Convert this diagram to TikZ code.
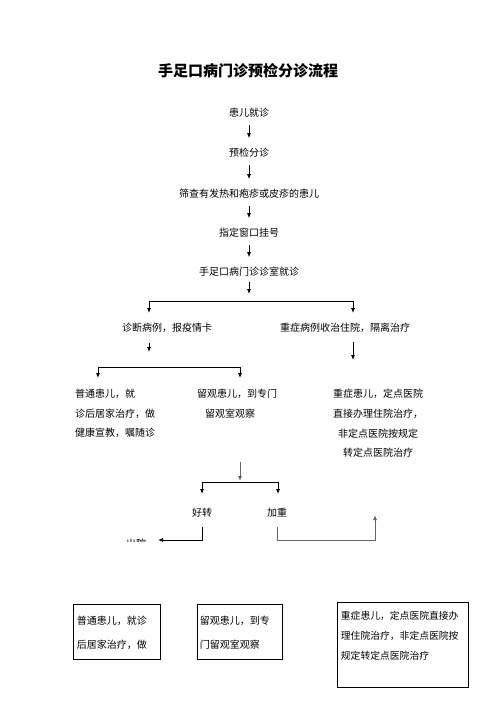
\documentclass[tikz,border=0pt]{standalone}
\usepackage{fontspec}
\newfontfamily\cjk{Noto Sans CJK SC}
\usetikzlibrary{arrows.meta}
\begin{document}
\begin{tikzpicture}[x=1pt,y=-1pt,
  txt/.style={font=\cjk\fontsize{10}{12}\selectfont, inner sep=0pt},
  para/.style={font=\cjk\fontsize{10}{19.6}\selectfont, inner sep=0pt},
  tip/.style={-{Latex[length=5pt,width=4pt]}},
  arr/.style={draw=black, line width=0.8pt, tip},
  garr/.style={draw=black!60, line width=0.8pt, tip},
  darr/.style={draw=black, line width=0.8pt, {Latex[length=5pt,width=4pt]}-{Latex[length=5pt,width=4pt]}},
  chain/.style={arr, shorten <=7pt, shorten >=10pt},
  boxnode/.style={draw, line width=0.8pt, font=\cjk\fontsize{10}{24}\selectfont, align=left, inner xsep=0pt, inner ysep=0pt, anchor=north west}
]
\useasboundingbox (0,0) rectangle (496,702);
\fill[white] (0,0) rectangle (496,702);

% title
\node[font=\cjk\bfseries\fontsize{15}{18}\selectfont, inner sep=0pt] (title) at (248,71) {手足口病门诊预检分诊流程};

% main chain
\node[txt] (n1) at (249,113) {患儿就诊};
\node[txt] (n2) at (249,153) {预检分诊};
\node[txt] (n3) at (249,194) {筛查有发热和疱疹或皮疹的患儿};
\node[txt] (n4) at (249,233) {指定窗口挂号};
\node[txt] (n5) at (249,272) {手足口病门诊诊室就诊};

\draw[chain] (n1) -- (n2);
\draw[chain] (n2) -- (n3);
\draw[chain] (n3) -- (n4);
\draw[chain] (n4) -- (n5);

% first branch
\coordinate (j1) at (249,294);
\draw[arr, shorten <=5pt] (n5) -- (j1);
\coordinate (tL) at (149,313);
\coordinate (hL) at (149,301);
\coordinate (hR) at (353,301);
\coordinate (tR) at (353,313);
\draw[darr] (tL) -- (hL) -- (hR) -- (tR);

\node[txt] (d1) at (167,328) {诊断病例，报疫情卡};
\node[txt] (d2) at (345,328) {重症病例收治住院，隔离治疗};

\coordinate (e1s) at (149,343);
\coordinate (e1e) at (149,352);
\draw[arr] (e1s) -- (e1e);
\coordinate (e2s) at (353,342);
\coordinate (e2e) at (353,360);
\draw[arr] (e2s) -- (e2e);

% second branch
\coordinate (uL) at (98,378);
\coordinate (vL) at (98,367);
\coordinate (vR) at (240,367);
\coordinate (uR) at (240,378);
\draw[darr] (uL) -- (vL) -- (vR) -- (uR);

\node[para, anchor=west, align=left] (p1) at (75,413.5) {普通患儿，就\\诊后居家治疗，做\\健康宣教，嘱随诊};
\node[para, anchor=west, align=left] (p2) at (197,403.5) {留观患儿，到专门\\\hspace*{8pt}留观室观察};
\node[para, align=center] (p3) at (378,423.5) {重症患儿，定点医院\\直接办理住院治疗，\\非定点医院按规定\\转定点医院治疗};

% third branch
\coordinate (k1s) at (240,462);
\coordinate (k1e) at (240,481);
\draw[garr] (k1s) -- (k1e);
\coordinate (wL) at (202,494);
\coordinate (xL) at (202,482);
\coordinate (xR) at (278,482);
\coordinate (wR) at (278,494);
\draw[darr] (wL) -- (xL) -- (xR) -- (wR);

\node[txt] (g1) at (202,513) {好转};
\node[txt] (g2) at (277,513) {加重};

\begin{scope}
\clip (100,530) rectangle (190,541.8);
\node[txt] (out) at (136,544) {出院};
\end{scope}

\coordinate (g1c) at (202,540);
\coordinate (g1e) at (158,540);
\draw[arr, shorten <=9pt] (g1) -- (g1c) -- (g1e);
\coordinate (g2c) at (277,540);
\coordinate (g2d) at (375,540);
\coordinate (g2e) at (375,515);
\draw[garr, shorten <=9pt] (g2) -- (g2c) -- (g2d) -- (g2e);

% boxes
\node[boxnode, minimum width=87pt, minimum height=55pt, text width=80pt, inner xsep=3.5pt] (b1) at (73,604) {\\[-14pt]普通患儿，就诊\\后居家治疗，做};
\node[boxnode, minimum width=85pt, minimum height=55pt, text width=80pt, inner xsep=2.5pt] (b2) at (197,604) {\\[-14pt]留观患儿，到专\\门留观室观察};
\node[boxnode, minimum width=131pt, minimum height=85pt, text width=124pt, inner xsep=3pt, font=\cjk\fontsize{9.8}{20}\selectfont] (b3) at (337,602) {重症患儿，定点医院直接办\\理住院治疗，非定点医院按\\规定转定点医院治疗\\\mbox{}};
\end{tikzpicture}
\end{document}
